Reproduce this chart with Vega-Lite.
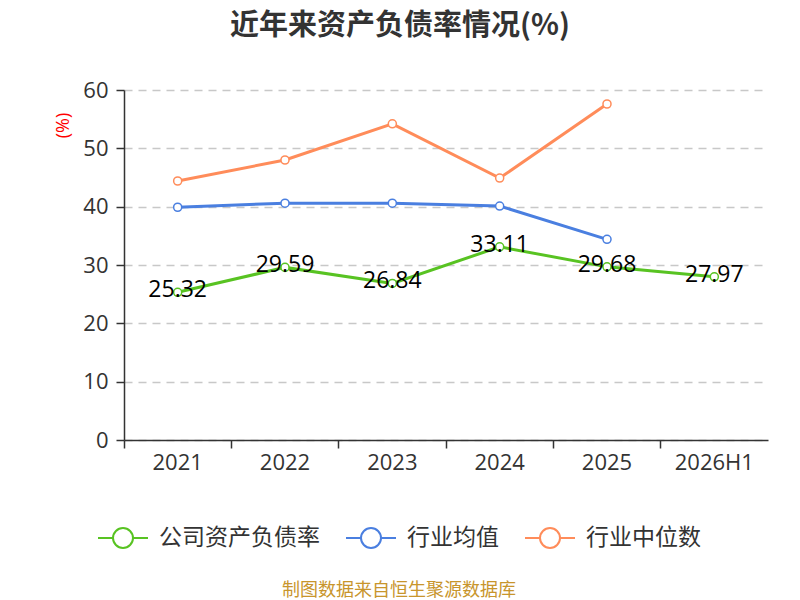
{
  "$schema": "https://vega.github.io/schema/vega-lite/v6.json",
  "width": 644,
  "height": 350,
  "autosize": {"type": "none"},
  "padding": {"left": 124, "top": 90, "right": 32, "bottom": 160},
  "background": "white",
  "title": {
    "text": "近年来资产负债率情况(%)",
    "font": "Noto Sans CJK SC",
    "fontSize": 29,
    "fontWeight": "bold",
    "color": "#333333",
    "anchor": "middle",
    "dx": -46,
    "offset": 38
  },
  "data": {
    "values": [
      {"year": "2021", "series": "公司资产负债率", "value": 25.32},
      {"year": "2022", "series": "公司资产负债率", "value": 29.59},
      {"year": "2023", "series": "公司资产负债率", "value": 26.84},
      {"year": "2024", "series": "公司资产负债率", "value": 33.11},
      {"year": "2025", "series": "公司资产负债率", "value": 29.68},
      {"year": "2026H1", "series": "公司资产负债率", "value": 27.97},
      {"year": "2021", "series": "行业均值", "value": 39.9},
      {"year": "2022", "series": "行业均值", "value": 40.6},
      {"year": "2023", "series": "行业均值", "value": 40.6},
      {"year": "2024", "series": "行业均值", "value": 40.1},
      {"year": "2025", "series": "行业均值", "value": 34.4},
      {"year": "2021", "series": "行业中位数", "value": 44.4},
      {"year": "2022", "series": "行业中位数", "value": 48.0},
      {"year": "2023", "series": "行业中位数", "value": 54.2},
      {"year": "2024", "series": "行业中位数", "value": 44.9},
      {"year": "2025", "series": "行业中位数", "value": 57.6}
    ]
  },
  "encoding": {
    "x": {
      "field": "year",
      "type": "nominal",
      "sort": ["2021", "2022", "2023", "2024", "2025", "2026H1"],
      "scale": {"type": "band", "paddingInner": 0, "paddingOuter": 0},
      "axis": {
        "title": null,
        "labelAngle": 0,
        "labelFont": "Open Sans",
        "labelFontSize": 22,
        "labelColor": "#333333",
        "labelPadding": 4,
        "bandPosition": 0,
        "tickSize": 8,
        "tickColor": "#333333",
        "tickWidth": 1.5,
        "domainColor": "#333333",
        "domainWidth": 1.5,
        "grid": false
      }
    },
    "y": {
      "field": "value",
      "type": "quantitative",
      "scale": {"domain": [0, 60]},
      "axis": {
        "title": "(%)",
        "titleColor": "#ff0000",
        "titleFont": "Open Sans",
        "titleFontSize": 18,
        "titleFontWeight": "normal",
        "titleAngle": -90,
        "titleAlign": "center",
        "titleBaseline": "middle",
        "titleX": -61,
        "titleY": 35,
        "values": [0, 10, 20, 30, 40, 50, 60],
        "labelFont": "Open Sans",
        "labelFontSize": 22,
        "labelColor": "#333333",
        "labelPadding": 8,
        "tickSize": 8,
        "tickColor": "#333333",
        "tickWidth": 1.5,
        "domainColor": "#333333",
        "domainWidth": 1.5,
        "grid": true,
        "gridColor": "#c8c8c8",
        "gridDash": [8, 6],
        "gridWidth": 1.5
      }
    },
    "color": {
      "field": "series",
      "type": "nominal",
      "sort": ["公司资产负债率", "行业均值", "行业中位数"],
      "scale": {
        "domain": ["公司资产负债率", "行业均值", "行业中位数"],
        "range": ["#58c322", "#4a7fe0", "#ff8c5a"]
      },
      "legend": {
        "title": "制图数据来自恒生聚源数据库",
        "titleOrient": "bottom",
        "titleAnchor": "middle",
        "titleColor": "#c8952c",
        "titleFont": "Noto Sans CJK SC",
        "titleFontSize": 18,
        "titleFontWeight": "normal",
        "titlePadding": 30,
        "titleLimit": 0,
        "orient": "none",
        "legendX": -27,
        "legendY": 422,
        "direction": "horizontal",
        "symbolType": "M-1,0L-0.4,0M0.4,0L1,0M0.4,0A0.4,0.4,0,1,1,-0.4,0A0.4,0.4,0,1,1,0.4,0",
        "symbolSize": 2500,
        "symbolStrokeWidth": 2,
        "symbolFillColor": "#ffffff",
        "labelFont": "Noto Sans CJK SC",
        "labelFontSize": 23,
        "labelColor": "#333333",
        "labelOffset": 10,
        "labelLimit": 0,
        "columnPadding": 22
      }
    }
  },
  "layer": [
    {
      "mark": {"type": "line", "strokeWidth": 3}
    },
    {
      "mark": {"type": "point", "filled": false, "fill": "#ffffff", "fillOpacity": 1, "opacity": 1, "size": 65, "strokeWidth": 1.5}
    },
    {
      "transform": [{"filter": "datum.series === '公司资产负债率'"}],
      "mark": {"type": "text", "font": "Open Sans", "fontSize": 23, "align": "center", "baseline": "middle", "dy": -2},
      "encoding": {
        "text": {"field": "value", "type": "quantitative", "format": ".2f"},
        "color": {"value": "#000000"}
      }
    }
  ],
  "config": {
    "font": "Noto Sans CJK SC",
    "view": {"stroke": null}
  }
}
